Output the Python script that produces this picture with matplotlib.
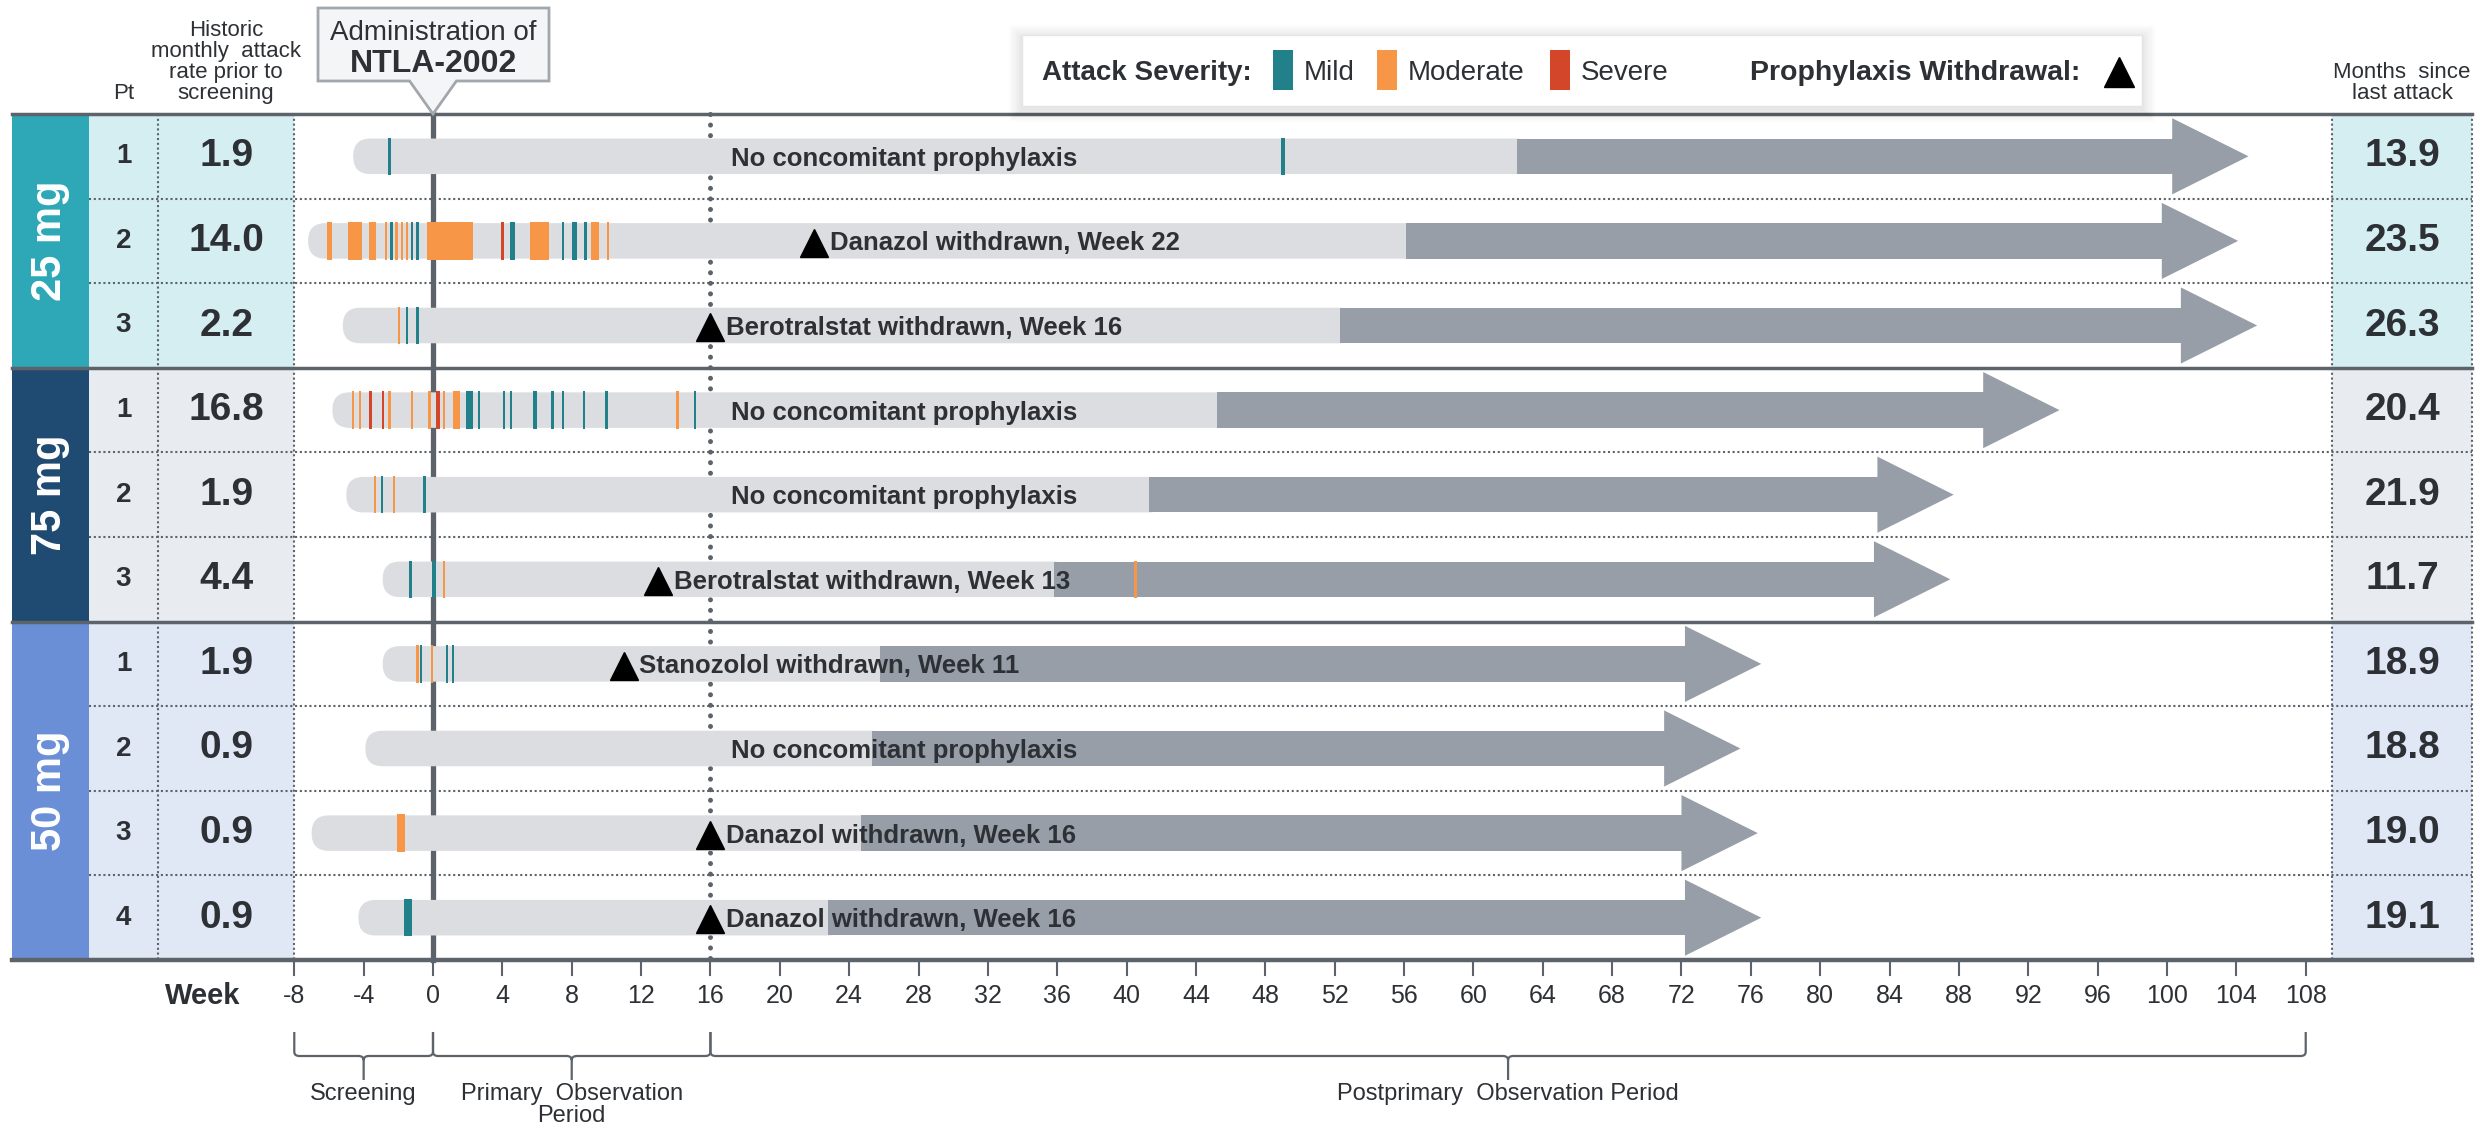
import numpy as np
import matplotlib.pyplot as plt
from matplotlib.patches import Rectangle, Polygon, FancyBboxPatch, PathPatch
from matplotlib.path import Path

plt.rcParams['font.family'] = ['Liberation Sans', 'DejaVu Sans']

# ---------------------------------------------------------------- data
dose_groups = ['25 mg', '75 mg', '50 mg']
group_size = [3, 3, 4]
pt_ids = [1, 2, 3, 1, 2, 3, 1, 2, 3, 4]
hist_rate = [1.9, 14.0, 2.2, 16.8, 1.9, 4.4, 1.9, 0.9, 0.9, 0.9]
months_since = [13.9, 23.5, 26.3, 20.4, 21.9, 11.7, 18.9, 18.8, 19.0, 19.1]

# timeline (weeks)
bar_start = [-4.6, -7.2, -5.2, -5.8, -5.0, -2.9, -2.9, -3.9, -7.0, -4.3]
dark_start = [62.5, 56.1, 52.3, 45.2, 41.3, 35.8, 25.8, 25.3, 24.7, 22.8]
arrow_end = [104.7, 104.1, 105.2, 93.8, 87.7, 87.5, 76.6, 75.4, 76.4, 76.6]

withdrawn_drug = [None, 'Danazol', 'Berotralstat', None, None,
                  'Berotralstat', 'Stanozolol', None, 'Danazol', 'Danazol']
withdrawn_week = [None, 22, 16, None, None, 13, 11, None, 16, 16]

# attacks: (week, length in weeks, severity)
T = 0.14  # a single-day attack
att_25_1 = [(-2.5, T, 'mild'), (49.0, 0.22, 'mild')]
att_25_2 = [(-5.95, 0.3, 'mod'), (-4.5, 0.8, 'mod'), (-3.5, 0.4, 'mod'),
            (-2.7, T, 'mod'), (-2.4, T, 'mild'), (-2.1, T, 'mod'),
            (-1.8, T, 'mod'), (-1.5, T, 'mod'), (-1.2, T, 'mild'),
            (-0.9, T, 'mild'), (0.97, 2.65, 'mod'), (4.0, T, 'sev'),
            (4.6, 0.3, 'mild'), (6.15, 1.1, 'mod'), (7.5, T, 'mild'),
            (8.15, 0.3, 'mild'), (8.8, T, 'mild'), (9.35, 0.5, 'mod'),
            (10.1, T, 'mod')]
att_25_3 = [(-1.95, T, 'mod'), (-1.5, T, 'mild'), (-0.9, T, 'mild')]
att_75_1 = [(-4.6, T, 'mod'), (-4.2, T, 'mod'), (-3.6, T, 'sev'),
            (-2.9, T, 'sev'), (-2.5, T, 'mod'), (-1.2, T, 'mod'),
            (-0.2, T, 'mod'), (0.28, 0.25, 'sev'), (0.65, T, 'mod'),
            (1.35, 0.4, 'mod'), (2.1, 0.4, 'mild'), (2.65, T, 'mild'),
            (4.1, T, 'mild'), (4.5, T, 'mild'), (5.9, 0.25, 'mild'),
            (6.9, T, 'mild'), (7.5, T, 'mild'), (8.7, T, 'mild'),
            (10.0, T, 'mild'), (14.1, T, 'mod'), (15.1, T, 'mild')]
att_75_2 = [(-3.35, T, 'mod'), (-2.95, T, 'mild'), (-2.25, T, 'mod'),
            (-0.5, T, 'mild')]
att_75_3 = [(-1.3, T, 'mild'), (0.05, 0.2, 'mild'), (0.65, T, 'mod'),
            (40.5, 0.2, 'mod')]
att_50_1 = [(-0.9, T, 'mod'), (-0.7, T, 'mild'), (-0.05, T, 'mod'),
            (0.8, T, 'mild'), (1.15, T, 'mild')]
att_50_2 = []
att_50_3 = [(-1.85, 0.5, 'mod')]
att_50_4 = [(-1.45, 0.5, 'mild')]
attacks = [att_25_1, att_25_2, att_25_3, att_75_1, att_75_2, att_75_3,
           att_50_1, att_50_2, att_50_3, att_50_4]

week_ticks = np.arange(-8, 109, 4)

# ---------------------------------------------------------------- style
group_dark = ['#2ea8b7', '#1f4a72', '#6a8fd7']
group_light = ['#d5eef2', '#e8ebef', '#e0e7f5']
sev_color = {'mild': '#22808a', 'mod': '#f79646', 'sev': '#d4462a'}
LINE = '#5d636b'
TXT = '#2d3035'
BAR = '#dcdde1'
DARK = '#979ea7'

# figure pixels -> data units (x in weeks, y in rows)
W, H = 2483, 1135
PPW = 17.34   # px per week
X0 = 433      # px of week 0
ROW = 84.6    # px per row
Y0 = 114      # px of table top


def wx(px):
    return (px - X0) / PPW


def ry(py):
    return (py - Y0) / ROW


fig = plt.figure(figsize=(W / 100, H / 100), dpi=100)
ax = fig.add_axes([0, 0, 1, 1])
ax.set_xlim(wx(0), wx(W))
ax.set_ylim(ry(H), ry(0))
ax.axis('off')

n = len(pt_ids)
xd0, xd1 = wx(12), wx(89)        # dose block
xp0, xp1 = wx(89), wx(158)       # pt column
xr0, xr1 = wx(158), -8           # rate column
xm0, xm1 = wx(2332), wx(2472)    # months column

# ---------------------------------------------------------------- table
starts = np.cumsum([0] + group_size[:-1])
for g, (name, size, s) in enumerate(zip(dose_groups, group_size, starts)):
    ax.add_patch(Rectangle((xd0, s), xd1 - xd0, size, fc=group_dark[g],
                           ec='none', zorder=1))
    ax.text((xd0 + xd1) / 2, s + size / 2, name, rotation=90, color='white',
            fontsize=30, fontweight='bold', ha='center', va='center', zorder=5)
    ax.add_patch(Rectangle((xp0, s), xr1 - xp0, size, fc=group_light[g],
                           ec='none', zorder=1))
    ax.add_patch(Rectangle((xm0, s), xm1 - xm0, size, fc=group_light[g],
                           ec='none', zorder=1))

for i in range(n):
    yc = i + 0.5
    ax.text((xp0 + xp1) / 2, yc, str(pt_ids[i]), fontsize=20, fontweight='bold',
            color=TXT, ha='center', va='center', zorder=5)
    ax.text((xr0 + xr1) / 2, yc, f'{hist_rate[i]:.1f}', fontsize=28,
            fontweight='bold', color=TXT, ha='center', va='center', zorder=5)
    ax.text((xm0 + xm1) / 2, yc, f'{months_since[i]:.1f}', fontsize=28,
            fontweight='bold', color=TXT, ha='center', va='center', zorder=5)

# horizontal rules
for b in [0] + list(np.cumsum(group_size)[:-1]):
    ax.plot([xd0, xm1], [b, b], color=LINE, lw=2.5, zorder=2)
ax.plot([xd0, xm1], [n, n], color=LINE, lw=3.2, zorder=2)
for r in range(1, n):
    if r in np.cumsum(group_size):
        continue
    ax.plot([xp0, xm1], [r, r], color=LINE, lw=1.5, ls=(0, (1, 1.3)), zorder=2)
for x in [xp1, xr1, xm0, xm1]:
    ax.plot([x, x], [0, n], color=LINE, lw=1.5, ls=(0, (1, 1.3)), zorder=2)

# week 0 and week 16 markers
ax.plot([0, 0], [0, n], color=LINE, lw=3.8, zorder=2)
ax.plot([16, 16], [0, n], color=LINE, lw=3.6, ls=(0, (0.01, 2.1)),
        dash_capstyle='round', zorder=2)

# ---------------------------------------------------------------- bars
bar_h = 0.42
head_len, head_h = 4.4, 0.9
for i in range(n):
    yc = i + 0.5
    x0, xd, xt = bar_start[i], dark_start[i], arrow_end[i]
    ax.add_patch(FancyBboxPatch((x0, yc - bar_h / 2), xd - x0 + 1, bar_h,
                                boxstyle='round,pad=0,rounding_size=1.0',
                                mutation_aspect=PPW / ROW, fc=BAR, ec='none',
                                zorder=3))
    ax.add_patch(Rectangle((xd, yc - bar_h / 2), xt - head_len - xd + 0.05,
                           bar_h, fc=DARK, ec='none', zorder=3))
    ax.add_patch(Polygon([(xt - head_len, yc - head_h / 2), (xt, yc),
                          (xt - head_len, yc + head_h / 2)],
                         fc=DARK, ec='none', zorder=3))
    for wk, ln, sev in attacks[i]:
        ax.add_patch(Rectangle((wk - ln / 2, yc - bar_h / 2 - 0.01), ln,
                               bar_h + 0.02, fc=sev_color[sev], ec='none',
                               zorder=4))
    if withdrawn_week[i] is None:
        ax.text(17.2, yc, 'No concomitant prophylaxis', fontsize=18.5,
                fontweight='bold', color=TXT, ha='left',
                va='center_baseline', zorder=6)
    else:
        ax.plot(withdrawn_week[i], yc + 0.02, marker='^', ms=20, color='black',
                zorder=6)
        ax.text(withdrawn_week[i] + 0.9, yc,
                f'{withdrawn_drug[i]} withdrawn, Week {withdrawn_week[i]}',
                fontsize=18.5, fontweight='bold', color=TXT, ha='left',
                va='center_baseline', zorder=6)

# ---------------------------------------------------------------- week axis
for w in week_ticks:
    ax.plot([w, w], [n, n + 0.18], color=LINE, lw=1.5, zorder=2)
    ax.text(w, ry(996), str(w), ha='center', va='center', fontsize=18,
            color=TXT)
ax.text(wx(203), ry(996), 'Week', ha='center', va='center', fontsize=21,
        fontweight='bold', color=TXT)


def brace(xa, xb, label, y_top=ry(1032), y_mid=ry(1056), y_bot=ry(1080)):
    xm = (xa + xb) / 2
    rx, rr = 0.3, 0.05
    verts = [(xa, y_top), (xa, y_mid - rr), (xa, y_mid), (xa + rx, y_mid),
             (xm - rx, y_mid), (xm, y_mid), (xm, y_mid + rr), (xm, y_bot),
             (xm, y_mid + rr), (xm, y_mid), (xm + rx, y_mid),
             (xb - rx, y_mid), (xb, y_mid), (xb, y_mid - rr), (xb, y_top)]
    codes = [Path.MOVETO, Path.LINETO, Path.CURVE3, Path.CURVE3,
             Path.LINETO, Path.CURVE3, Path.CURVE3, Path.LINETO,
             Path.MOVETO, Path.CURVE3, Path.CURVE3,
             Path.LINETO, Path.CURVE3, Path.CURVE3, Path.LINETO]
    ax.add_patch(PathPatch(Path(verts, codes), fc='none', ec=LINE, lw=1.6))
    ax.text(xm, ry(1083), label, ha='center', va='top', fontsize=17,
            color=TXT, linespacing=1.0)


brace(-8, 0, 'Screening')
brace(0, 16, 'Primary  Observation\nPeriod')
brace(16, 108, 'Postprimary  Observation Period')

# ---------------------------------------------------------------- headers
ax.text((xp0 + xp1) / 2, ry(104), 'Pt', ha='center', va='bottom', fontsize=16,
        color=TXT)
ax.text((xr0 + xr1) / 2, ry(104), 'Historic\nmonthly  attack\nrate prior to\nscreening',
        ha='center', va='bottom', fontsize=16, color=TXT, linespacing=1.0)
ax.text((xm0 + xm1) / 2, ry(104), 'Months  since\nlast attack', ha='center',
        va='bottom', fontsize=16, color=TXT, linespacing=1.0)

# callout for dosing
bx0, bx1, by0, by1 = wx(318), wx(549), ry(8), ry(81)
pw = 1.35
ax.add_patch(Polygon([(bx0, by0), (bx1, by0), (bx1, by1), (pw, by1), (0, 0),
                      (-pw, by1), (bx0, by1)], closed=True, fc='#f4f5f6',
                     ec='#a2a7ad', lw=2, zorder=7))
ax.text(0, ry(33), 'Administration of', ha='center', va='center', fontsize=20,
        color=TXT, zorder=8)
ax.text(0, ry(64), 'NTLA-2002', ha='center', va='center', fontsize=23,
        fontweight='bold', color=TXT, zorder=8)

# legend
lx0, lx1, ly0, ly1 = wx(1022), wx(2142), ry(35), ry(106)
for k in range(1, 9):
    dx, dy = k * 1.6 / PPW, k * 1.6 / ROW
    ax.add_patch(Rectangle((lx0 - dx, ly0 - dy + 3 / ROW), lx1 - lx0 + 2 * dx,
                           ly1 - ly0 + 2 * dy, fc='black', ec='none',
                           alpha=0.012, zorder=6))
ax.add_patch(Rectangle((lx0, ly0), lx1 - lx0, ly1 - ly0, fc='white',
                       ec='#e2e4e7', lw=1, zorder=7))
ly = ry(70)
ax.text(wx(1042), ly, 'Attack Severity:', fontsize=20, fontweight='bold',
        color=TXT, va='center_baseline', zorder=8)
for px, sev, label in [(1273, 'mild', 'Mild'), (1377, 'mod', 'Moderate'),
                       (1550, 'sev', 'Severe')]:
    ax.add_patch(Rectangle((wx(px), ly - 0.235), 20 / PPW, 0.47,
                           fc=sev_color[sev], ec='none', zorder=8))
    ax.text(wx(px + 31), ly, label, fontsize=20, color=TXT,
            va='center_baseline', zorder=8)
ax.text(wx(1750), ly, 'Prophylaxis Withdrawal:', fontsize=20.5,
        fontweight='bold', color=TXT, va='center_baseline', zorder=8)
ax.plot(wx(2119), ly + 0.02, marker='^', ms=22, color='black', zorder=8)

fig.savefig('out.png', dpi=100)
